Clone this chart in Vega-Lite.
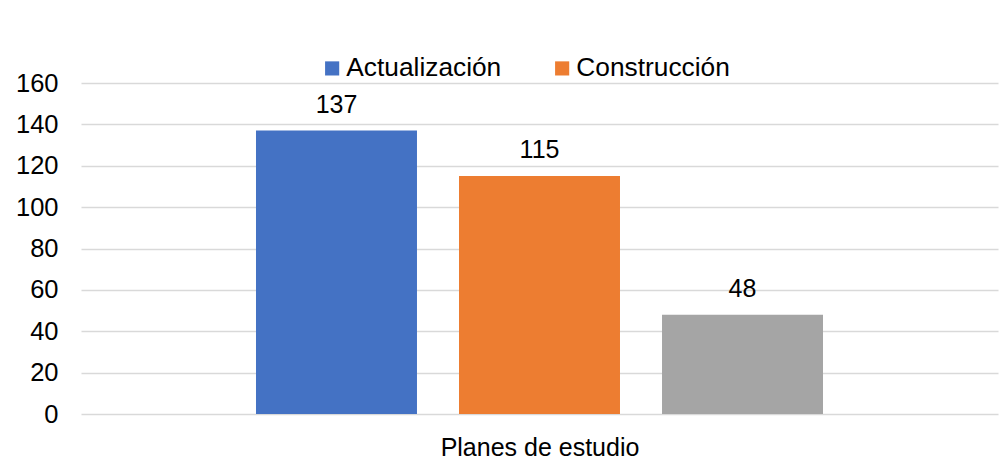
{
  "$schema": "https://vega.github.io/schema/vega-lite/v6.json",
  "autosize": {"type": "none"},
  "width": 917,
  "height": 331,
  "padding": {"left": 81, "top": 83, "right": 4, "bottom": 47},
  "background": "white",
  "config": {
    "font": "Liberation Sans",
    "view": {"stroke": null}
  },
  "data": {
    "values": [
      {"serie": "Actualización", "valor": 137},
      {"serie": "Construcción", "valor": 115},
      {"serie": "Otros", "valor": 48}
    ]
  },
  "encoding": {
    "x": {
      "field": "serie",
      "type": "nominal",
      "sort": null,
      "scale": {"paddingInner": 0.207, "paddingOuter": 0.862},
      "axis": {
        "title": "Planes de estudio",
        "labels": false,
        "ticks": false,
        "domain": false,
        "titleFontSize": 25,
        "titleFontWeight": "normal",
        "titleColor": "#000000",
        "titlePadding": 21
      }
    },
    "y": {
      "field": "valor",
      "type": "quantitative",
      "scale": {"domain": [0, 160]},
      "axis": {
        "title": null,
        "values": [0, 20, 40, 60, 80, 100, 120, 140, 160],
        "domain": false,
        "ticks": false,
        "labelFontSize": 25.5,
        "labelColor": "#000000",
        "labelPadding": 23,
        "gridColor": "#d9d9d9",
        "gridWidth": 1.3
      }
    }
  },
  "layer": [
    {
      "mark": {"type": "bar"},
      "encoding": {
        "color": {
          "field": "serie",
          "type": "nominal",
          "scale": {
            "domain": ["Actualización", "Construcción", "Otros"],
            "range": ["#4472C4", "#ED7D31", "#A5A5A5"]
          },
          "legend": {
            "values": ["Actualización", "Construcción"],
            "title": null,
            "orient": "none",
            "direction": "horizontal",
            "legendX": 238,
            "legendY": -28,
            "symbolType": "square",
            "symbolSize": 200,
            "symbolStrokeWidth": 0,
            "labelFontSize": 26.3,
            "labelColor": "#000000",
            "labelOffset": 1,
            "columnPadding": 47
          }
        }
      }
    },
    {
      "mark": {"type": "text", "dy": -18, "fontSize": 25, "color": "#000000", "baseline": "alphabetic"},
      "encoding": {
        "text": {"field": "valor", "type": "quantitative"}
      }
    }
  ]
}
